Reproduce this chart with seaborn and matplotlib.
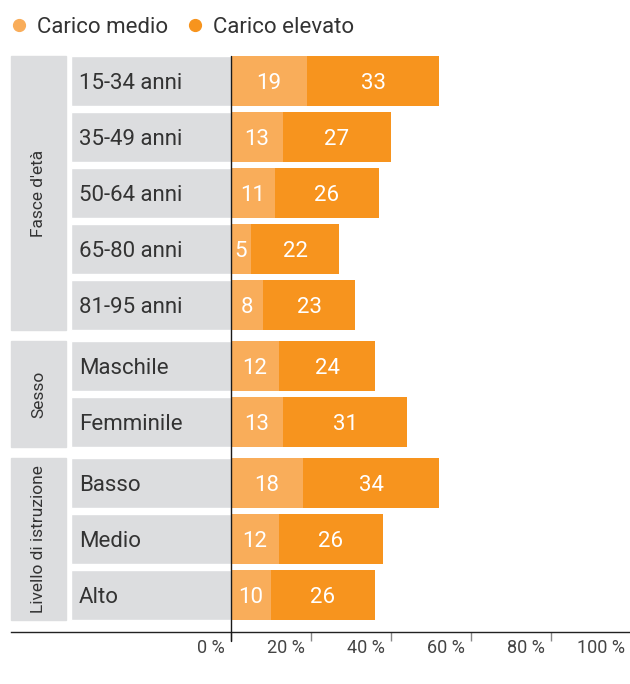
import matplotlib
matplotlib.use('Agg')
import matplotlib.pyplot as plt
import matplotlib.transforms as mtransforms
from matplotlib.patches import Rectangle
from matplotlib.lines import Line2D
import seaborn as sns
import pandas as pd

# ---------------- data ----------------
group_names = ["Fasce d'età", "Sesso", "Livello di istruzione"]
age_labels = ["15-34 anni", "35-49 anni", "50-64 anni", "65-80 anni", "81-95 anni"]
age_medio = [19, 13, 11, 5, 8]
age_elevato = [33, 27, 26, 22, 23]
sex_labels = ["Maschile", "Femminile"]
sex_medio = [12, 13]
sex_elevato = [24, 31]
edu_labels = ["Basso", "Medio", "Alto"]
edu_medio = [18, 12, 10]
edu_elevato = [34, 26, 26]
series_names = ["Carico medio", "Carico elevato"]
x_ticks = [0, 20, 40, 60, 80, 100]
x_ticklabels = ["0 %", "20 %", "40 %", "60 %", "80 %", "100 %"]

# ---------------- style ----------------
LIGHT = '#F9AD5A'
DARK = '#F7941E'
GRAY = '#DCDDDF'
TXT = '#333333'

sns.set_theme(style='white')
plt.rcParams['font.family'] = ['Roboto', 'DejaVu Sans']

W, H = 630, 684
fig = plt.figure(figsize=(W / 100, H / 100), dpi=100)

groups = [
    (group_names[0], age_labels, age_medio, age_elevato),
    (group_names[1], sex_labels, sex_medio, sex_elevato),
    (group_names[2], edu_labels, edu_medio, edu_elevato),
]
# axes extents in pixels (top, bottom)
extents = [(53, 333), (338, 450), (455, 632)]
BW = 50 / 56
FS = 16

for gi, ((gname, labels, medio, elevato), (top, bottom)) in enumerate(zip(groups, extents)):
    last = gi == len(groups) - 1
    n = len(labels)
    ax = fig.add_axes([11 / W, 1 - bottom / H, 620 / W, (bottom - top) / H])
    df = pd.DataFrame({'cat': labels, 'medio': medio, 'elevato': elevato})
    df['totale'] = df['medio'] + df['elevato']
    sns.barplot(data=df, y='cat', x='totale', color=DARK, width=BW, saturation=1,
                errorbar=None, orient='y', ax=ax, linewidth=0)
    sns.barplot(data=df, y='cat', x='medio', color=LIGHT, width=BW, saturation=1,
                errorbar=None, orient='y', ax=ax, linewidth=0)
    # label background boxes
    ax.barh(range(n), 40, left=-40, height=BW, color=GRAY, zorder=0.5)
    ax.add_patch(Rectangle((-55, -25 / 56), 13.75, (n - 1) + 50 / 56,
                           color=GRAY, zorder=0.5, clip_on=False))
    ax.text(-48.1, (n - 1) / 2, gname, rotation=90, ha='center', va='center',
            fontsize=12.5, color=TXT)
    for i, (lab, m, e) in enumerate(zip(labels, medio, elevato)):
        ax.text(-38, i, lab, ha='left', va='center_baseline', fontsize=FS, color=TXT)
        ax.text(m / 2, i, str(m), ha='center', va='center_baseline', fontsize=FS,
                color='white')
        ax.text(m + e / 2, i, str(e), ha='center', va='center_baseline', fontsize=FS,
                color='white')

    ax.set_xlim(-55, 100)
    if last:
        ax.set_ylim(n - 0.5 + 9 / 56, -0.5)
    else:
        ax.set_ylim(n - 0.5, -0.5)
    ax.set_xlabel('')
    ax.set_ylabel('')
    ax.set_yticks([])
    for s in ['top', 'right', 'left']:
        ax.spines[s].set_visible(False)
    if last:
        ax.spines['bottom'].set_color('#222222')
        ax.spines['bottom'].set_linewidth(1)
        ax.set_xticks(x_ticks, x_ticklabels)
        ax.tick_params(axis='x', bottom=True, direction='out', length=6.5, width=1,
                       color='#888888', pad=-1.5, labelsize=13, labelcolor='#444444')
        off = mtransforms.ScaledTranslation(-6 / 100, 0, fig.dpi_scale_trans)
        for lbl in ax.get_xticklabels():
            lbl.set_ha('right')
            lbl.set_transform(lbl.get_transform() + off)
    else:
        ax.spines['bottom'].set_visible(False)
        ax.set_xticks([])

# zero line
fig.add_artist(Line2D([231 / W, 231 / W], [1 - 641 / H, 1 - 56 / H],
                      color='#1a1a1a', lw=1, transform=fig.transFigure))

# legend
handles = [Line2D([], [], marker='o', ls='', markersize=8.5, color=c) for c in (LIGHT, DARK)]
fig.legend(handles, series_names, loc='center left', bbox_to_anchor=(10.7 / W, 1 - 27.5 / H),
           ncol=2, frameon=False, fontsize=FS, handlelength=0.75, handletextpad=0.43,
           columnspacing=0.85, borderpad=0, borderaxespad=0, labelcolor=TXT)

fig.savefig('out.png', dpi=100)
